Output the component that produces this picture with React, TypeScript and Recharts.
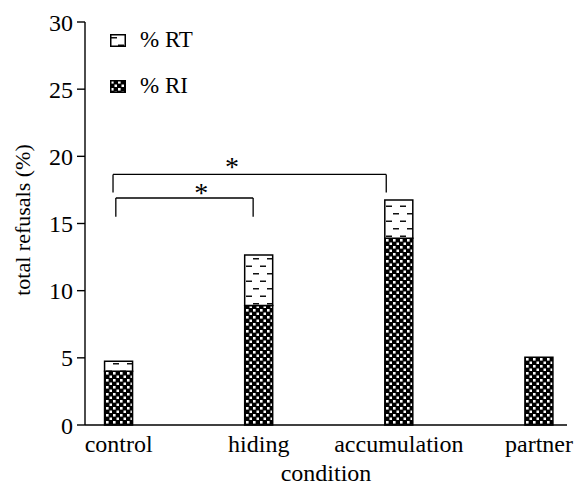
import {
  Bar,
  BarChart,
  ReferenceDot,
  ReferenceLine,
  XAxis,
  YAxis,
} from "recharts";

const conditions = ["control", "hiding", "accumulation", "partner"];
const riValues = [4.0, 8.9, 13.9, 5.05];
const rtValues = [0.75, 3.75, 2.85, 0];
const yTicks = [0, 5, 10, 15, 20, 25, 30];

// significance brackets: x in category positions, y in %
const brackets = [
  { from: -0.04, to: 1.91, y: 18.65, drop: 17.3, starX: 0.81, starY: 19.45 },
  { from: -0.02, to: 0.96, y: 16.9, drop: 15.5, starX: 0.59, starY: 17.5 },
];

const legendItems = [
  { label: "% RT", fill: "url(#dashes)" },
  { label: "% RI", fill: "url(#dots)" },
];

const font = "'Liberation Serif', 'Times New Roman', serif";

// full-page figure: no body margin, no scrollbars
document.body.style.margin = "0";
document.documentElement.style.overflow = "hidden";

const data = conditions.map((name, i) => ({
  pos: i,
  name,
  ri: riValues[i],
  rt: rtValues[i],
}));

function LegendBox() {
  return (
    <div
      style={{
        position: "absolute",
        left: 110,
        top: 17,
        fontFamily: font,
        fontSize: 23,
        color: "#000",
      }}
    >
      {legendItems.map((item) => (
        <div
          key={item.label}
          style={{ display: "flex", alignItems: "center", height: 46 }}
        >
          <svg width={16} height={13} style={{ marginRight: 14 }}>
            <rect
              x={0.75}
              y={0.75}
              width={14.5}
              height={11.5}
              fill={item.fill}
              stroke="#000"
              strokeWidth={1.5}
            />
          </svg>
          <span>{item.label}</span>
        </div>
      ))}
    </div>
  );
}

function Star(props: any) {
  return (
    <text
      x={props.cx}
      y={props.cy + 12}
      textAnchor="middle"
      fontFamily={font}
      fontSize={28}
      fill="#000"
    >
      *
    </text>
  );
}

function YLabel() {
  return (
    <text
      transform="translate(22,220) rotate(-90)"
      textAnchor="middle"
      dominantBaseline="central"
      fontFamily={font}
      fontSize={22}
      fill="#000"
    >
      total refusals (%)
    </text>
  );
}

export default function App() {
  return (
    <div style={{ position: "relative", width: 574, height: 486 }}>
      <BarChart
        width={574}
        height={486}
        data={data}
        margin={{ top: 22, right: 7, left: 0, bottom: 0 }}
        style={{ fontFamily: font }}
      >
        <defs>
          <pattern id="dots" width="7" height="7" patternUnits="userSpaceOnUse">
            <rect width="7" height="7" fill="#000" />
            <rect x="1" y="1" width="2.6" height="2.6" fill="#fff" />
            <rect x="4.5" y="4.5" width="2.6" height="2.6" fill="#fff" />
          </pattern>
          <pattern id="dashes" width="14" height="15" patternUnits="userSpaceOnUse">
            <rect width="14" height="15" fill="#fff" />
            <rect x="1" y="3" width="6" height="1.5" fill="#111" />
            <rect x="8" y="10.5" width="6" height="1.5" fill="#111" />
          </pattern>
        </defs>
        <XAxis
          dataKey="pos"
          type="number"
          domain={[-0.24, 3.2]}
          ticks={[0, 1, 2, 3]}
          tickFormatter={(v) => conditions[v]}
          tickLine={false}
          axisLine={{ stroke: "#000", strokeWidth: 1.4 }}
          tick={{ fill: "#000", fontSize: 24, fontFamily: font }}
          tickMargin={4}
          height={61}
          interval={0}
          label={{
            value: "condition",
            position: "insideBottom",
            offset: 5,
            fill: "#000",
            fontSize: 24,
            fontFamily: font,
          }}
        />
        <YAxis
          domain={[0, 30]}
          ticks={yTicks}
          width={85}
          tickSize={8}
          tickMargin={4}
          axisLine={{ stroke: "#000", strokeWidth: 1.4 }}
          tickLine={{ stroke: "#000", strokeWidth: 1.4 }}
          tick={{ fill: "#000", fontSize: 24, fontFamily: font }}
          label={<YLabel />}
        />
        <Bar
          dataKey="ri"
          stackId="a"
          barSize={28}
          fill="url(#dots)"
          stroke="#000"
          strokeWidth={1.5}
          isAnimationActive={false}
        />
        <Bar
          dataKey="rt"
          stackId="a"
          barSize={28}
          fill="url(#dashes)"
          stroke="#000"
          strokeWidth={1.5}
          isAnimationActive={false}
        />
        {brackets.map((b, i) => (
          <ReferenceLine
            key={`h${i}`}
            segment={[
              { x: b.from, y: b.y },
              { x: b.to, y: b.y },
            ]}
            stroke="#000"
            strokeWidth={1.3}
          />
        ))}
        {brackets.map((b, i) => (
          <ReferenceLine
            key={`l${i}`}
            segment={[
              { x: b.from, y: b.y },
              { x: b.from, y: b.drop },
            ]}
            stroke="#000"
            strokeWidth={1.3}
          />
        ))}
        {brackets.map((b, i) => (
          <ReferenceLine
            key={`r${i}`}
            segment={[
              { x: b.to, y: b.y },
              { x: b.to, y: b.drop },
            ]}
            stroke="#000"
            strokeWidth={1.3}
          />
        ))}
        {brackets.map((b, i) => (
          <ReferenceDot
            key={`s${i}`}
            x={b.starX}
            y={b.starY}
            r={0}
            shape={<Star />}
          />
        ))}
      </BarChart>
      <LegendBox />
    </div>
  );
}
